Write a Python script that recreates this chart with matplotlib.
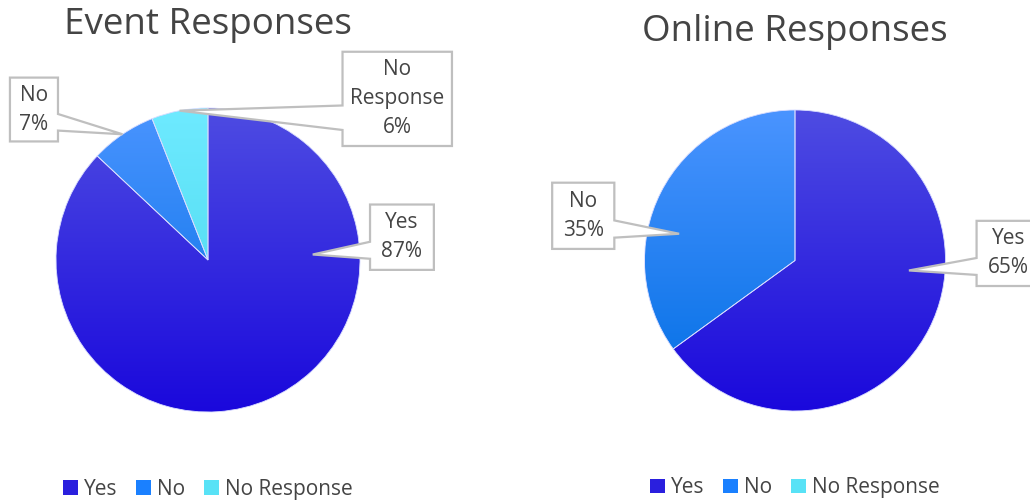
import matplotlib
matplotlib.use("Agg")
import matplotlib.pyplot as plt
import numpy as np
from matplotlib.colors import LinearSegmentedColormap
from matplotlib.patches import Polygon, Patch

plt.rcParams['font.family'] = ['Open Sans', 'DejaVu Sans']

# survey results
categories = ['Yes', 'No', 'No Response']
event_values = [87, 7, 6]
online_values = [65, 35, 0]
event_title = 'Event Responses'
online_title = 'Online Responses'

# (top colour, bottom colour) for each category
grad_colors = [('#4e4ce2', '#1a08dc'),
               ('#4a94ff', '#006ee4'),
               ('#6eeaff', '#44d6ea')]
legend_colors = ['#2a1fde', '#1a80ff', '#58e2f6']
TEXT = '#444444'
EDGE = '#bfbfbf'


def gradient_pie(ax, values):
    vals = [v for v in values if v > 0]
    wedges, _ = ax.pie(vals, startangle=90, counterclock=False, radius=1,
                       wedgeprops=dict(linewidth=0.6, edgecolor='#d8dcff'))
    ramp = np.linspace(0, 1, 256).reshape(-1, 1)
    for w, (top, bot) in zip(wedges, grad_colors):
        w.set_facecolor('none')
        cmap = LinearSegmentedColormap.from_list('g', [top, bot])
        im = ax.imshow(ramp, cmap=cmap, extent=(-1, 1, -1, 1), origin='upper',
                       aspect='auto', zorder=w.get_zorder() - 0.1)
        im.set_clip_path(w)
    return wedges


def callout(ax, text, center, w, h, tip, fs=15):
    cx, cy = center
    x0, x1 = cx - w / 2, cx + w / 2
    y0, y1 = cy - h / 2, cy + h / 2
    b0, b1 = y0 + 0.17 * h, y0 + 0.43 * h
    if tip[0] > cx:
        pts = [(x0, y0), (x1, y0), (x1, b0), tip, (x1, b1), (x1, y1), (x0, y1)]
    else:
        pts = [(x0, y0), (x1, y0), (x1, y1), (x0, y1), (x0, b1), tip, (x0, b0)]
    ax.add_patch(Polygon(pts, closed=True, facecolor='white', edgecolor=EDGE,
                         linewidth=1.6, zorder=5))
    ax.text(cx, cy, text, ha='center', va='center', fontsize=fs,
            color=TEXT, linespacing=1.5, zorder=6)


def wedge_point(wedge, r=1.0, angle=None):
    if angle is None:
        angle = (wedge.theta1 + wedge.theta2) / 2
    a = np.deg2rad(angle)
    return (r * np.cos(a), r * np.sin(a))


fig = plt.figure(figsize=(10.30, 5.01), dpi=100)

# left pie: centre at (208, 260) px, radius 152 px
ax1 = fig.add_axes([0, 0, 0.5, 1])
w1 = gradient_pie(ax1, event_values)
r1 = 152.0
ax1.set_xlim(-208 / r1, (515 - 208) / r1)
ax1.set_ylim(-(501 - 260) / r1, 260 / r1)
ax1.set_aspect('auto')
ax1.axis('off')
ax1.text(0, 1.545, event_title, ha='center', va='center', fontsize=26.5, color=TEXT)
callout(ax1, 'Yes\n%d%%' % event_values[0], (1.276, 0.15), 0.42, 0.43,
        wedge_point(w1[0], 0.69, 3))
callout(ax1, 'No\n%d%%' % event_values[1], (-1.145, 0.99), 0.316, 0.42,
        wedge_point(w1[1]))
callout(ax1, 'No\nResponse\n%d%%' % event_values[2], (1.245, 1.06), 0.72, 0.62,
        wedge_point(w1[2]))

# right pie: centre at (795, 260) px, radius 150 px
ax2 = fig.add_axes([0.5, 0, 0.5, 1])
w2 = gradient_pie(ax2, online_values)
r2 = 150.5
ax2.set_xlim(-280 / r2, 235 / r2)
ax2.set_ylim(-(501 - 260.5) / r2, 260.5 / r2)
ax2.set_aspect('auto')
ax2.axis('off')
ax2.text(0, 1.52, online_title, ha='center', va='center', fontsize=26.5, color=TEXT)
callout(ax2, 'Yes\n%d%%' % online_values[0], (1.42, 0.047), 0.427, 0.433,
        wedge_point(w2[0], 0.76, -5))
callout(ax2, 'No\n%d%%' % online_values[1], (-1.407, 0.297), 0.413, 0.44,
        wedge_point(w2[1], 0.79, 167))

handles = [Patch(facecolor=c, edgecolor='none') for c in legend_colors]
for ax, y in ((ax1, -1.51), (ax2, -1.51)):
    leg = ax.legend(handles, categories, loc='center', ncol=3,
                    bbox_to_anchor=(0, y), bbox_transform=ax.transData,
                    frameon=False, fontsize=15, handlelength=0.7,
                    handleheight=0.7, handletextpad=0.3, columnspacing=0.9)
    for t in leg.get_texts():
        t.set_color(TEXT)

fig.savefig('out.png', dpi=100, facecolor='white')
